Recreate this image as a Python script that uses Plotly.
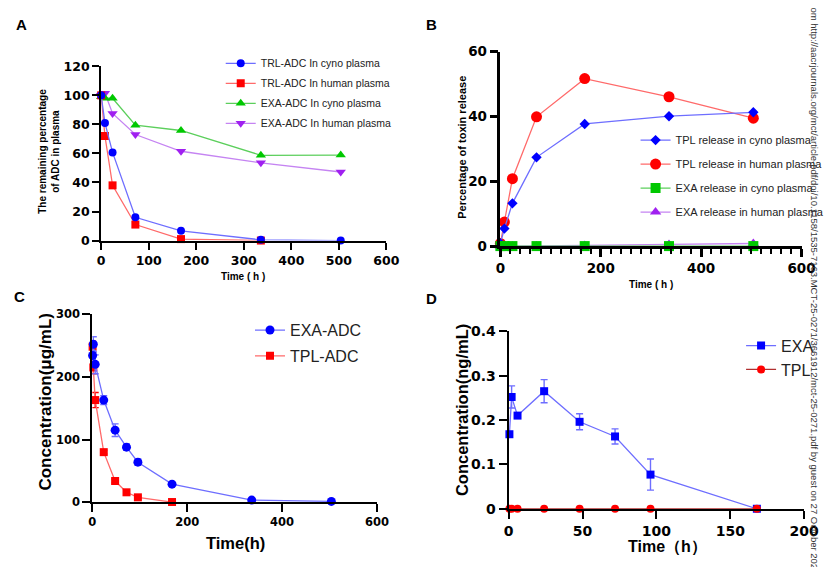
import plotly.graph_objects as go

W, H = 837, 567

# ---------------- data ----------------
# Panel A: remaining ADC (%)
tA = [0, 8, 24, 72, 168, 336, 504]
tA_trl_human = [0, 8, 24, 72, 168, 336]
trl_cyno = [100, 81, 60.7, 16, 6.7, 0.5, 0]
trl_human = [100, 72, 38, 11, 1, 0]
exa_cyno = [99, 98, 98, 79.4, 75.8, 58.7, 58.9]
exa_human = [100, 101.5, 87.5, 73, 61.5, 53.5, 47.2]

# Panel B: toxin release (%)
tB = [0, 8, 24, 72, 168, 336, 504]
tpl_rel_cyno = [0.8, 5.4, 13.2, 27.4, 37.7, 40.1, 41.3]
tpl_rel_human = [0.8, 7.4, 20.8, 39.9, 51.7, 46.1, 39.5]
exa_rel_cyno = [0, 0, 0, 0, 0, 0, 0]
exa_rel_human = [0, 0, 0, 0, 0.2, 0.5, 0.8]

# Panel C: ADC concentration (ug/mL)
tC_exa = [0.5, 2, 6, 24, 48, 72, 96, 168, 336, 504]
exa_adc = [234, 252, 220, 163, 115, 88, 64, 29, 3.6, 1.5]
exa_adc_err = [8, 12, 15, 7, 10, 5, 5, 2, 1, 1]
tC_tpl = [0.5, 2, 6, 24, 48, 72, 96, 168]
tpl_adc = [248, 215, 163, 80, 34, 16, 8, 0.5]
tpl_adc_err = [9, 10, 12, 3, 3, 2, 2, 0.5]

# Panel D: free payload (ng/mL)
tD = [0.5, 2, 6, 24, 48, 72, 96, 168]
exa_free = [0.168, 0.252, 0.21, 0.265, 0.196, 0.163, 0.077, 0.0]
exa_free_err = [0.004, 0.025, 0.004, 0.026, 0.018, 0.017, 0.035, 0.0]
tpl_free = [0, 0, 0, 0, 0, 0, 0, 0]

# ---------------- helpers ----------------
def px(x):
    return x / W

def py(y):
    return 1 - y / H

BLUE, RED, GREEN, PURPLE = "#0000ff", "#ff0000", "#00c800", "#a020f0"
LBLUE, LRED, LGREEN, LPURPLE = "#6e6eff", "#ff6a6a", "#5ccf5c", "#c584f2"
TICKFONT = "DejaVu Sans"
TXT = "Arial, Liberation Sans, sans-serif"

fig = go.Figure()

def add(x, y, name, xa, ya, mcol, lcol, sym, size, legend, rank, err=None, ecol=None):
    tr = dict(
        x=x, y=y, name=name, mode="lines+markers",
        xaxis=xa, yaxis=ya, legend=legend, legendrank=rank, legendgroup=name,
        marker=dict(color=mcol, symbol=sym, size=size),
        line=dict(color=lcol, width=1.3),
        cliponaxis=False,
    )
    if err is not None:
        tr["error_y"] = dict(type="data", array=err, visible=True, color=ecol,
                             thickness=1.4, width=3.5)
    fig.add_trace(go.Scatter(**tr))

# Panel A (draw order reversed so blue is on top)
add(tA, exa_human, "EXA-ADC In human plasma", "x", "y", PURPLE, LPURPLE, "triangle-down", 9, "legend", 4)
add(tA, exa_cyno, "EXA-ADC In cyno plasma", "x", "y", GREEN, LGREEN, "triangle-up", 9, "legend", 3)
add(tA_trl_human, trl_human, "TRL-ADC In human plasma", "x", "y", RED, LRED, "square", 8, "legend", 2)
add(tA, trl_cyno, "TRL-ADC In cyno plasma", "x", "y", BLUE, LBLUE, "circle", 8, "legend", 1)

# Panel B
add(tB, exa_rel_human, "EXA release in human plasma", "x2", "y2", PURPLE, LPURPLE, "triangle-up", 10, "legend2", 4)
add(tB, tpl_rel_human, "TPL release in human plasma", "x2", "y2", RED, LRED, "circle", 11, "legend2", 2)
add(tB, tpl_rel_cyno, "TPL release in cyno plasma", "x2", "y2", BLUE, LBLUE, "diamond", 8, "legend2", 1)
add(tB, exa_rel_cyno, "EXA release in cyno plasma", "x2", "y2", GREEN, LGREEN, "square", 10, "legend2", 3)

# Panel C
add(tC_tpl, tpl_adc, "TPL-ADC", "x3", "y3", RED, LRED, "square", 8, "legend3", 2, tpl_adc_err, RED)
add(tC_exa, exa_adc, "EXA-ADC", "x3", "y3", BLUE, LBLUE, "circle", 9, "legend3", 1, exa_adc_err, LBLUE)

# Panel D
add(tD, exa_free, "EXA", "x4", "y4", BLUE, LBLUE, "square", 8, "legend4", 1, exa_free_err, LBLUE)
add(tD, tpl_free, "TPL", "x4", "y4", RED, "#b03030", "circle", 8, "legend4", 2)

def xax(dom, rng, dtick, anchor, fs, ticklen=7, lw=2, minor=None):
    d = dict(domain=dom, range=rng, dtick=dtick, tick0=0, anchor=anchor,
             showgrid=False, zeroline=False, showline=True, linecolor="black",
             linewidth=lw, ticks="outside", ticklen=ticklen, tickwidth=lw,
             tickcolor="black",
             tickfont=dict(family=TICKFONT, size=fs, color="black", weight="bold"))
    if minor:
        d["minor"] = minor
    return d

# pixel-based domains
A_x = [px(98.5), px(390.7)]; A_y = [py(239.3), py(60)]
B_x = [px(507.5), px(816)];  B_y = [py(245), py(45)]
C_x = [px(89.5), px(381)];   C_y = [py(508.7), py(315)]
D_x = [px(516), px(818.7)];  D_y = [py(515.3), py(332.7)]

fig.update_layout(
    width=W, height=H, margin=dict(l=0, r=0, t=0, b=0),
    paper_bgcolor="white", plot_bgcolor="white",
    font=dict(family=TXT, color="black"),
    xaxis=xax(A_x, [0, 600], 100, "y", 12.5),
    yaxis=xax(A_y, [0, 120], 20, "x", 12.5),
    xaxis2=xax(B_x, [0, 600], 200, "y2", 13.5, ticklen=8, lw=2.5,
               minor=dict(dtick=20, ticks="outside", ticklen=5, tickwidth=1.5, tickcolor="black")),
    yaxis2=xax(B_y, [0, 60], 20, "x2", 13.5, ticklen=8, lw=2.5),
    xaxis3=xax(C_x, [0, 600], 200, "y3", 11.5, ticklen=8),
    yaxis3=xax(C_y, [0, 300], 100, "x3", 11.5, ticklen=8),
    xaxis4=xax(D_x, [0, 200], 50, "y4", 14, ticklen=8),
    yaxis4=xax(D_y, [0, 0.4], 0.1, "x4", 14, ticklen=8),
    legend=dict(x=px(221), y=py(42), xanchor="left", yanchor="top",
                bgcolor="rgba(0,0,0,0)", font=dict(family=TXT, size=10.5, color="#222"),
                traceorder="grouped", tracegroupgap=1),
    legend2=dict(x=px(646), y=py(121), xanchor="left", yanchor="top",
                 bgcolor="rgba(0,0,0,0)", font=dict(family=TXT, size=11, color="#222"),
                 traceorder="grouped", tracegroupgap=5),
    legend3=dict(x=px(251), y=py(314), xanchor="left", yanchor="top",
                 bgcolor="rgba(0,0,0,0)", font=dict(family=TXT, size=16, color="#222"),
                 traceorder="grouped", tracegroupgap=2),
    legend4=dict(x=px(834), y=py(330), xanchor="right", yanchor="top",
                 bgcolor="rgba(0,0,0,0)", font=dict(family=TXT, size=16, color="#222"),
                 traceorder="grouped", tracegroupgap=0),
    showlegend=True,
)

def ann(text, x, y, size, angle=0, bold=True, color="black", family=TXT, **kw):
    fig.add_annotation(text=("<b>%s</b>" % text) if bold else text,
                       x=px(x), y=py(y), xref="paper", yref="paper",
                       xanchor="center", yanchor="middle",
                       showarrow=False, textangle=angle,
                       font=dict(family=family, size=size, color=color), **kw)

# panel letters
ann("A", 17, 17, 15)
ann("B", 437, 17, 15)
ann("C", 15, 297, 15)
ann("D", 437, 299, 15)

# axis titles
ann("Time ( h )", 244, 276, 10)
ann("The remaining percentage<br>of ADC in plasma", 45, 147, 10, angle=-90)
ann("Time ( h )", 662, 285, 10)
ann("Percentage of toxin release", 468, 143, 11, angle=-90)
ann("Time(h)", 236, 551, 16.5)
ann("Concentration(μg/mL)", 42, 405, 17, angle=-90)
ann("Time（h）", 679, 555, 16)
ann("Concentration(ng/mL)", 469, 414, 16.5, angle=-90)

# side watermark
fig.add_annotation(
    text="om http://aacrjournals.org/mct/article-pdf/doi/10.1158/1535-7163.MCT-25-0271/3661912/mct-25-0271.pdf by guest on 27 October 2025",
    x=px(829), y=py(-3), xref="paper", yref="paper", xanchor="center", yanchor="top",
    showarrow=False, textangle=90,
    font=dict(family=TXT, size=9.5, color="#333"))

fig.write_html("out.html")
